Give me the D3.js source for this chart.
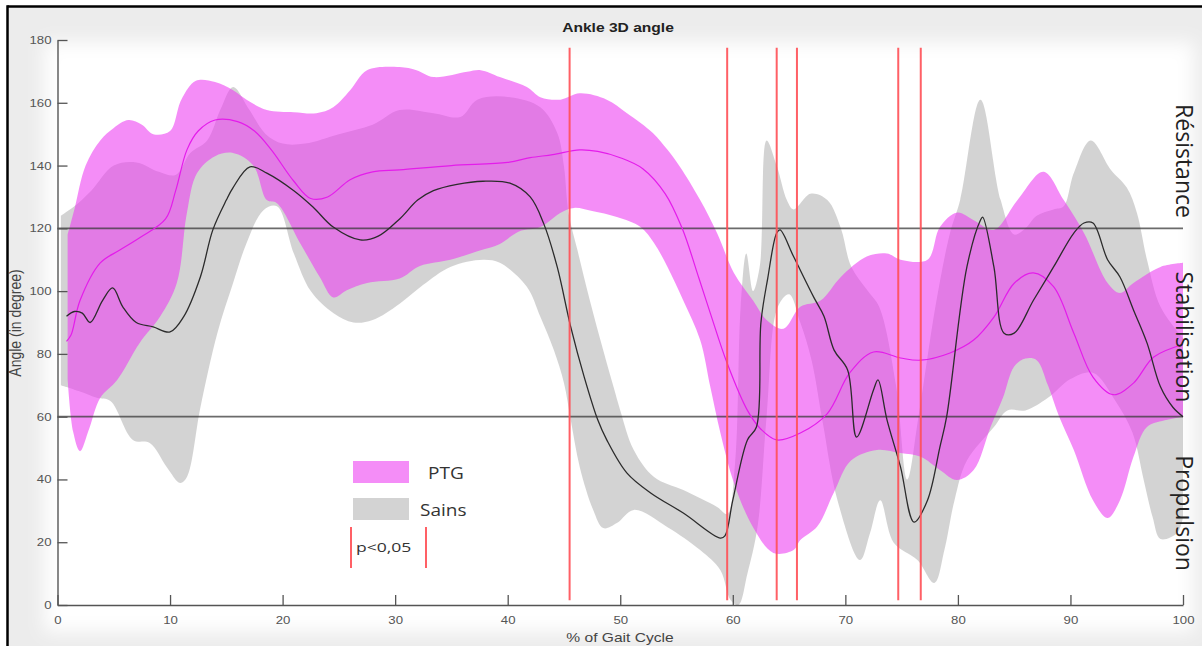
<!DOCTYPE html>
<html>
<head>
<meta charset="utf-8">
<script src="https://cdn.jsdelivr.net/npm/d3@7"></script>
<style>
  html, body { margin: 0; padding: 0; background: #fff; }
  svg { display: block; }
</style>
</head>
<body>
<svg id="chart" width="1202" height="646"></svg>
<script>
// Ankle 3D angle over the gait cycle: PTG vs Sains (mean ± band)
const xTicks = [0, 10, 20, 30, 40, 50, 60, 70, 80, 90, 100];
const yTicks = [0, 20, 40, 60, 80, 100, 120, 140, 160, 180];
const zoneLines = [60, 120];
const zoneLabels = ["Résistance", "Stabilisation", "Propulsion"];
const sigLines = [45.5, 59.5, 63.9, 65.7, 74.7, 76.7];
const legendLabels = ["PTG", "Sains"];

// PTG group
const ptgUpper = [[0.9,118],[1.5,126],[2.5,140],[3.8,148],[5,152],[6.3,154.5],[7.5,153],[8.5,150],[10,151],[11,161],[12.3,167],[14,166.6],[15.6,164],[16.8,161],[18.6,157.7],[21,157],[23,156.7],[24.5,158.6],[26,164],[27.5,170.4],[30.4,171.4],[31.9,170.4],[33.4,168.2],[36.4,169.9],[37.6,170.4],[39.3,168.2],[41.7,165],[42.9,161.8],[44.7,161],[46.4,163],[48.8,161],[50.6,156.7],[52.9,150.4],[54.2,145],[55.3,139.6],[57.1,129],[58.6,118.5],[60.1,105.8],[61.8,97],[63,90.8],[64.5,88],[66,95],[67.8,97],[69.6,104.5],[71.9,111],[73.7,112],[74.9,110],[77.3,110],[78.4,120.4],[79.9,125],[81.4,122.6],[83.2,119.5],[85.3,129],[87.6,138],[89.4,129],[91.2,118.5],[93.3,102.6],[94.4,99.4],[95.6,102.6],[98,107.7],[100,109]];
const ptgLower = [[0.9,72],[1.4,55],[2,49],[2.8,56],[3.8,66],[5.3,71.7],[7.3,83.5],[9.1,91.8],[10.6,102.6],[11.5,125],[12.4,137.6],[14,143],[15.6,144],[17.4,140],[18.6,129],[19.5,128],[21.6,115],[23.3,104.5],[24.5,98],[25.7,100.3],[27.5,102.6],[30.4,104],[32.2,108],[34.9,110],[37.6,113],[39.3,115],[41,119],[42.9,120.4],[44.7,125],[45.9,126.5],[47.5,125.5],[49.7,123.6],[51.8,120.4],[53,115.3],[54.2,107.7],[55.6,97],[57.1,84.4],[58,69.5],[58.9,54.8],[60.1,38.9],[61.8,24.8],[63.6,16.6],[65.4,17.5],[66,20.7],[67.5,25],[69,36],[70.5,46],[72.8,49.4],[74.9,48.4],[76.7,47.2],[78.4,43],[79.9,39.8],[81.4,43],[82.9,56.7],[84,66],[85,76],[86,78.5],[87,78],[88,70],[89,60],[90.3,49.4],[92,33.4],[93.3,27.7],[94.4,33.4],[95.6,47.2],[96.8,56.7],[98.6,59],[100,60]];
const ptgMean = [[0.8,84],[1.2,86],[2,97],[3.8,109],[5.5,113],[7.3,117],[9.6,123],[10.5,132],[11.5,145],[12.5,151],[14,154.5],[16,154],[17.5,151],[19,145],[21,135],[22.5,129.5],[24,130],[26,135.5],[28,138],[30.4,138.6],[35,140],[40,141],[42,142.5],[44,143.5],[46.4,145],[48,144.5],[50,142.5],[52,139],[54,131],[55.5,120],[57,104],[58,93],[59.5,77],[61.3,62],[62.5,56],[63.9,52.6],[66,54.8],[68.4,61],[70.4,74],[72.5,80.6],[74.9,78.7],[76.7,78],[79.3,80.3],[81.4,84.4],[83.2,91.7],[85,102.5],[86.7,105.8],[88.5,101.4],[90.3,86.6],[92,72.6],[93.8,67],[95.6,70.7],[97.4,79],[100,83]];

// Sains group
const sainsUpper = [[0.3,124],[1.5,127],[3,132],[5,140],[7,141],[9,138],[10.5,137],[11.8,144],[13.3,148],[14.5,158],[15.6,165],[17,158],[18.5,150],[20,147],[22,147],[25,150],[28,153],[30.4,157.7],[33.4,156.7],[35.8,155.5],[37.3,161],[40.2,161.8],[42.9,158.6],[44.4,150.4],[45,139.6],[45.4,125],[46.2,113],[47.3,97],[48.5,81],[49.4,69.5],[50,62],[51.2,49.4],[53,40.8],[55.6,36.6],[58.6,31.2],[59.5,29],[60.2,45],[60.7,95],[61.2,112],[61.8,100],[62.4,108],[63,148],[63.9,140],[64.8,129],[65.4,126],[66.9,131],[68.4,129],[69.6,120],[70.5,108],[72,100],[73,95],[74.5,70],[75.5,40],[76.5,60],[78,95],[79.3,118.5],[80.2,129],[82,161],[83.8,129],[85,118],[86,120],[87,124],[88.5,126],[89.4,127],[90.3,137.6],[91.8,148],[93.6,138.6],[95,133],[95.9,125],[96.8,110],[98,95],[100,85]];
const sainsLower = [[0.3,70],[2,68],[3.5,66],[4.7,65],[6.7,52.6],[8.2,51.6],[9.7,44],[10.9,38.9],[11.5,40.8],[12.7,63],[14.2,86.6],[15.6,102.6],[16.8,115.3],[18.3,125.8],[19.5,127],[21,112],[22.5,100],[24.5,93],[26.3,90],[28,90.8],[30.4,96],[32.5,102],[34.9,107.7],[37.8,110],[39.3,109],[41.7,101.4],[42.9,91.8],[44.1,81.2],[45,70.7],[45.6,59],[46.4,44],[47.6,30.3],[48.5,24.5],[49.7,26.1],[51.2,30.3],[54.2,24.8],[57.1,17.5],[58.9,11.1],[59.8,1.6],[60.5,0],[61.3,10],[62.2,25],[63,60],[64,95],[65,99],[66,90],[67,78],[68,58],[69.3,33.4],[71.3,14.3],[72.2,23],[73.1,33.4],[74.3,19.8],[76.4,14.3],[77.9,7],[78.8,17.5],[79.7,33.4],[80.8,46],[83.2,56.7],[84.4,62],[86,62],[88,66],[90,72],[92,74],[94,65],[95.5,55],[96.5,40],[97.3,28],[98,21],[99.5,23],[100,28]];
const sainsMean = [[0.8,92],[1.5,93.5],[2.2,93],[2.9,90],[4,97],[4.9,101],[5.8,95],[7,90],[8.5,88.6],[10,87],[11.2,91.8],[12.7,104.6],[13.8,119.5],[15,129],[15.6,133],[17.1,139.6],[18.6,137.6],[21,132],[22.7,126.8],[24.5,120.4],[26.9,116.3],[28.5,117.5],[30.4,123],[32,129],[33.4,132],[35.5,134],[37.8,135],[40.2,134.4],[42,130],[43.2,121.5],[44.4,107.7],[45.6,88.6],[46.8,72.6],[48,59],[48.8,52.6],[50.6,42],[52.7,35.7],[55.6,29.3],[58.9,21.3],[59.3,22],[60,33.4],[61.3,52.6],[62.1,56.7],[62.5,90],[63.1,104],[63.9,118.5],[64.2,119.5],[65.4,111],[67.2,98],[68.1,92],[69,81.2],[70.2,74.9],[71,53.5],[72.5,68.5],[72.9,71.7],[73.7,59],[74.9,44],[76.1,26.4],[77.3,33.4],[78.4,50.3],[79,60],[80.8,107.7],[82,122.6],[82.2,123.6],[83.2,107.7],[84.1,86.6],[85,86.6],[86.7,97],[88.5,107.7],[90.3,118.5],[91.2,121.7],[92,121.7],[93.3,110],[94.4,104.5],[95.6,94],[96.8,83.5],[98,69.5],[99.1,63],[100,60]];

const svg = d3.select("#chart");
const W = 1202, H = 646;

const x = d3.scaleLinear().domain([0, 100]).range([57.5, 1183]);
const y = d3.scaleLinear().domain([0, 180]).range([605, 40]);

// figure background with a soft white panel behind the axes
const defs = svg.append("defs");
defs.append("filter").attr("id", "soft")
  .attr("x", "-10%").attr("y", "-10%").attr("width", "120%").attr("height", "120%")
  .append("feGaussianBlur").attr("stdDeviation", 9);

svg.append("rect").attr("x", 7).attr("y", 6).attr("width", W).attr("height", H)
  .attr("fill", "#ececec");
svg.append("rect").attr("x", 44).attr("y", 42).attr("width", 1150).attr("height", 590)
  .attr("fill", "#ffffff").attr("filter", "url(#soft)");

const plot = svg.append("g");

const curve = d3.curveCatmullRom.alpha(0.5);
const line = d3.line().x(d => x(d[0])).y(d => y(d[1])).curve(curve);

function bandPath(upper, lower) {
  const top = line(upper);
  const bottom = line(lower.slice().reverse());
  return top + "L" + bottom.slice(1) + "Z";
}

// bands
plot.append("path").attr("d", bandPath(sainsUpper, sainsLower))
  .attr("fill", "rgb(168,168,168)").attr("fill-opacity", 0.5);
plot.append("path").attr("d", bandPath(ptgUpper, ptgLower))
  .attr("fill", "rgb(236,58,242)").attr("fill-opacity", 0.58);

// phase boundaries
plot.selectAll(".zone").data(zoneLines).enter().append("line")
  .attr("x1", x(0)).attr("x2", x(100))
  .attr("y1", d => y(d)).attr("y2", d => y(d))
  .attr("stroke", "#3a3a3a").attr("stroke-opacity", 0.75).attr("stroke-width", 1.6);

// mean curves
plot.append("path").attr("d", line(ptgMean))
  .attr("fill", "none").attr("stroke", "#e41ceb").attr("stroke-width", 1.2);
plot.append("path").attr("d", line(sainsMean))
  .attr("fill", "none").attr("stroke", "#2b2b2b").attr("stroke-width", 1.3);

// significant differences
plot.selectAll(".sig").data(sigLines).enter().append("line")
  .attr("x1", d => x(d)).attr("x2", d => x(d))
  .attr("y1", y(177.5)).attr("y2", y(1.5))
  .attr("stroke", "#ff4f55").attr("stroke-opacity", 0.9).attr("stroke-width", 2);

// axes
const axisColor = "#555";
const xAxis = svg.append("g").attr("transform", `translate(0,${y(0)})`)
  .call(d3.axisBottom(x).tickValues(xTicks).tickSizeInner(-10).tickSizeOuter(0).tickPadding(11));
const yAxis = svg.append("g").attr("transform", `translate(${x(0)},0)`)
  .call(d3.axisLeft(y).tickValues(yTicks).tickSizeInner(-10).tickSizeOuter(0).tickPadding(6));
[xAxis, yAxis].forEach(g => {
  g.select(".domain").attr("stroke", axisColor).attr("stroke-width", 1.4);
  g.selectAll(".tick line").attr("stroke", axisColor).attr("stroke-width", 1.3);
  g.selectAll(".tick text").attr("fill", "#555")
    .attr("font-family", "Liberation Sans, Arial, sans-serif").attr("font-size", 11);
});
// slightly widened tick labels
xAxis.selectAll(".tick text").attr("transform", "scale(1.2,1)");
yAxis.selectAll(".tick text").attr("transform", "scale(1.2,1)")
  .attr("x", -6 / 1.2);

// title and axis labels
function wideText(px, py, str, opts) {
  const g = svg.append("g").attr("transform", `translate(${px},${py}) scale(${opts.sx || 1},1)`);
  const t = g.append("text").text(str)
    .attr("text-anchor", opts.anchor || "middle")
    .attr("font-family", opts.family || "Liberation Sans, Arial, sans-serif")
    .attr("font-size", opts.size)
    .attr("font-weight", opts.weight || "normal")
    .attr("fill", opts.fill || "#333");
  if (opts.rotate) t.attr("transform", `rotate(${opts.rotate})`);
  return t;
}
wideText(618, 32, "Ankle 3D angle", { size: 13, weight: "bold", sx: 1.2, fill: "#222" });
wideText(620, 642, "% of Gait Cycle", { size: 13, sx: 1.2, fill: "#444" });
wideText(21, 323, "Angle (in degree)", { size: 14, sx: 1.15, rotate: -90, fill: "#444" });

// phase names along the right edge
const zoneLabelY = [161, 337, 513];
svg.selectAll(".zlab").data(zoneLabels).enter().append("text")
  .attr("transform", (d, i) => `translate(1176,${zoneLabelY[i]}) rotate(90)`)
  .attr("text-anchor", "middle")
  .attr("font-family", "Open Sans, sans-serif")
  .attr("font-size", 23)
  .attr("fill", "#222")
  .text(d => d);

// legend
const legend = svg.append("g");
const swatchFill = [["rgb(236,58,242)", 0.58], ["rgb(168,168,168)", 0.5]];
const swatchY = [461, 498];
legend.selectAll(".sw").data(legendLabels).enter().append("rect")
  .attr("x", 353).attr("y", (d, i) => swatchY[i])
  .attr("width", 56).attr("height", 22)
  .attr("fill", (d, i) => swatchFill[i][0])
  .attr("fill-opacity", (d, i) => swatchFill[i][1]);
const legendTextX = [428, 420];
legendLabels.forEach((d, i) => {
  wideText(legendTextX[i], swatchY[i] + 18, d,
    { size: 17, sx: 1.12, anchor: "start", family: "Open Sans, sans-serif", fill: "#333" });
});
[351, 426].forEach(px => {
  legend.append("line").attr("x1", px).attr("x2", px).attr("y1", 527).attr("y2", 568)
    .attr("stroke", "#ff4f55").attr("stroke-width", 1.8);
});
wideText(356, 552, "p<0,05", { size: 13, sx: 1.35, anchor: "start", family: "Open Sans, sans-serif", fill: "#333" });

// frame edges
svg.append("line").attr("x1", 7.5).attr("x2", W).attr("y1", 6.5).attr("y2", 6.5)
  .attr("stroke", "#000").attr("stroke-width", 2.5);
svg.append("line").attr("x1", 7.5).attr("x2", 7.5).attr("y1", 5.3).attr("y2", H)
  .attr("stroke", "#000").attr("stroke-width", 2.5);
</script>
</body>
</html>
